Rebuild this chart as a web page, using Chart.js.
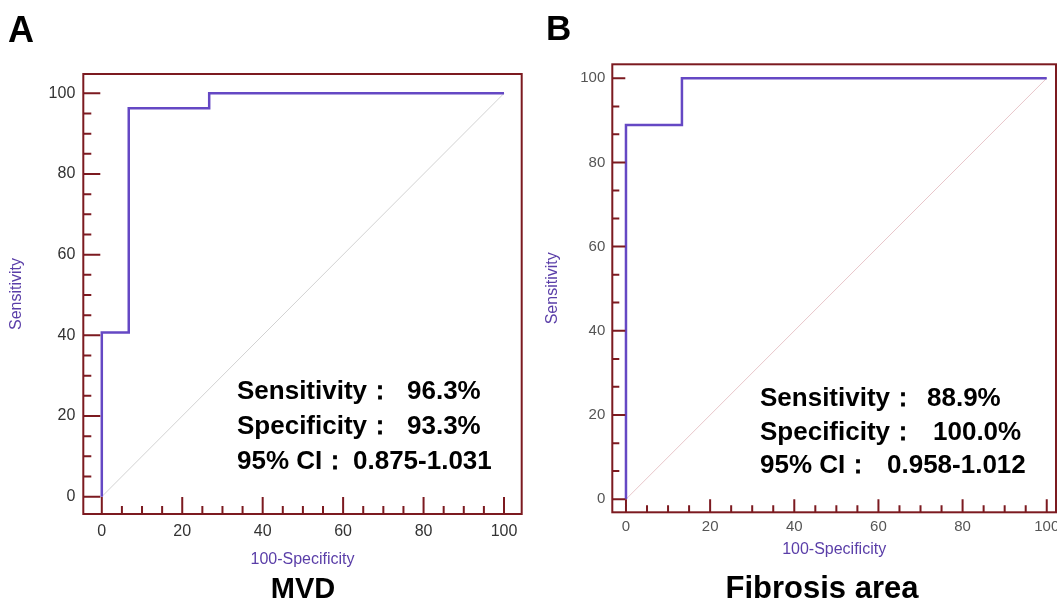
<!DOCTYPE html>
<html>
<head>
<meta charset="utf-8">
<script src="https://cdn.jsdelivr.net/npm/chart.js@4.4.0/dist/chart.umd.min.js"></script>
<style>
  html, body { margin: 0; padding: 0; background: #fff; overflow: hidden; }
  #wrap { position: relative; width: 1057px; height: 602px; overflow: hidden; font-family: "Liberation Sans", Arial, sans-serif; }
  .cv { position: absolute; top: 0; }
  .txt { position: absolute; white-space: nowrap; font-weight: bold; color: #000; line-height: 1; }
</style>
</head>
<body>
<div id="wrap">
  <canvas id="rocA" class="cv" width="540" height="602" style="left:0"></canvas>
  <canvas id="rocB" class="cv" width="540" height="602" style="left:540px"></canvas>
  <div id="notes"></div>
</div>
<script>
/* ROC curves — MVD (A) and fibrosis area (B) */

const majorTicks = [0, 20, 40, 60, 80, 100];
const minorTicks5 = [5, 10, 15, 25, 30, 35, 45, 50, 55, 65, 70, 75, 85, 90, 95];
const minorTicksThird = [6.7, 13.3, 26.7, 33.3, 46.7, 53.3, 66.7, 73.3, 86.7, 93.3];

// ROC operating points (100-Specificity, Sensitivity)
const mvdFpr = [0, 0, 6.7, 26.7, 100];
const mvdSens = [0, 40.7, 96.3, 100, 100];
const fibFpr = [0, 0, 13.3, 100];
const fibSens = [0, 88.9, 100, 100];
const refLine = [0, 100];

const statLabels = ['Sensitivity：', 'Specificity：', '95% CI：'];
const mvdStats = ['96.3%', '93.3%', '0.875-1.031'];
const fibStats = ['88.9%', '100.0%', '0.958-1.012'];

const FONT = '"Liberation Sans", Arial, sans-serif';
const RED = '#7c1a20';
const PURPLE = '#6548c4';
const TITLE_PURPLE = '#5a3ea8';

// box + inward ticks
const frame = {
  id: 'frame',
  afterDatasetsDraw(chart, args, o) {
    const { ctx, chartArea: a, scales: { x, y } } = chart;
    ctx.save();
    ctx.strokeStyle = RED;
    ctx.lineWidth = 2;
    ctx.beginPath();
    const yTick = (v, len) => {
      const py = y.getPixelForValue(v);
      ctx.moveTo(a.left, py);
      ctx.lineTo(a.left + len, py);
    };
    const xTick = (v, len) => {
      const px = x.getPixelForValue(v);
      ctx.moveTo(px, a.bottom);
      ctx.lineTo(px, a.bottom - len);
    };
    majorTicks.forEach((v) => yTick(v, o.major));
    o.yMinor.forEach((v) => yTick(v, o.minor));
    majorTicks.forEach((v) => xTick(v, o.major));
    o.xMinor.forEach((v) => xTick(v, o.minor));
    ctx.stroke();
    ctx.strokeRect(a.left, a.top, a.right - a.left, a.bottom - a.top);
    ctx.restore();
  },
};

function rocChart(id, cfg) {
  return new Chart(document.getElementById(id), {
    type: 'line',
    data: {
      datasets: [
        {
          data: cfg.fpr.map((v, i) => ({ x: v, y: cfg.sens[i] })),
          borderColor: PURPLE,
          borderWidth: 2.5,
          pointRadius: 0,
          stepped: 'before',
        },
        {
          data: refLine.map((v) => ({ x: v, y: v })),
          borderColor: cfg.diag,
          borderWidth: 1,
          pointRadius: 0,
        },
      ],
    },
    options: {
      responsive: false,
      animation: false,
      events: [],
      layout: { padding: cfg.pad },
      plugins: {
        legend: { display: false },
        tooltip: { enabled: false },
        frame: { major: cfg.major, minor: cfg.minor, xMinor: cfg.xMinor, yMinor: cfg.yMinor },
      },
      scales: {
        x: {
          type: 'linear',
          min: cfg.x[0],
          max: cfg.x[1],
          afterBuildTicks: (ax) => { ax.ticks = majorTicks.map((v) => ({ value: v })); },
          afterFit: (ax) => { ax.height = cfg.xH; },
          grid: { display: false, drawTicks: false },
          border: { display: false },
          ticks: { padding: cfg.xPad, color: cfg.tickColor, maxRotation: 0, font: { family: FONT, size: cfg.tickSize } },
          title: { display: true, text: '100-Specificity', color: TITLE_PURPLE, font: { family: FONT, size: 16 }, padding: { top: 0, bottom: cfg.xTitlePad } },
        },
        y: {
          type: 'linear',
          min: cfg.y[0],
          max: cfg.y[1],
          afterBuildTicks: (ax) => { ax.ticks = majorTicks.map((v) => ({ value: v })); },
          afterFit: (ax) => { ax.width = cfg.yW; },
          grid: { display: false, drawTicks: false },
          border: { display: false },
          ticks: { padding: cfg.yPad, color: cfg.tickColor, font: { family: FONT, size: cfg.tickSize } },
          title: { display: true, text: 'Sensitivity', color: TITLE_PURPLE, font: { family: FONT, size: 16 }, padding: { top: cfg.yTitlePad, bottom: 0 } },
        },
      },
    },
    plugins: [frame],
  });
}

rocChart('rocA', {
  fpr: mvdFpr, sens: mvdSens, diag: '#d2d2d2',
  x: [-4.6, 104.4], y: [-4.3, 104.8],
  pad: { left: 0, top: 74, right: 18.3, bottom: 28 },
  xH: 60, yW: 83.3, xPad: 8, yPad: 8, xTitlePad: 4.4, yTitlePad: 7.4,
  tickColor: '#333', tickSize: 16,
  major: 17, minor: 8, xMinor: minorTicks5, yMinor: minorTicks5,
});

rocChart('rocB', {
  fpr: fibFpr, sens: fibSens, diag: '#e8c6ca',
  x: [-3.25, 102.2], y: [-3.1, 103.3],
  pad: { left: 0, top: 64.3, right: 24, bottom: 39.7 },
  xH: 50, yW: 72.3, xPad: 5.4, yPad: 7, xTitlePad: 2.7, yTitlePad: 3.4,
  tickColor: '#555', tickSize: 15,
  major: 13, minor: 7, xMinor: minorTicks5, yMinor: minorTicksThird,
});

// text overlays
function textDiv(text, left, baseline, size, center) {
  const top = baseline - 0.8465 * size;
  const tx = center ? 'transform:translateX(-50%);' : '';
  return `<div class="txt" style="left:${left}px;top:${top}px;font-size:${size}px;${tx}">${text}</div>`;
}

function statBlock(values, labelLeft, valueLefts, baselines) {
  return values.map((v, i) =>
    textDiv(statLabels[i], labelLeft, baselines[i], 26) + textDiv(v, valueLefts[i], baselines[i], 26)
  ).join('');
}

document.getElementById('notes').innerHTML =
  textDiv('A', 8, 42, 36) +
  textDiv('B', 546, 40, 35) +
  statBlock(mvdStats, 237, [407, 407, 353], [399, 434, 469]) +
  statBlock(fibStats, 760, [927, 933, 887], [406, 440, 473]) +
  textDiv('MVD', 303, 599, 29, true) +
  textDiv('Fibrosis area', 822, 598, 31, true);
</script>
</body>
</html>
